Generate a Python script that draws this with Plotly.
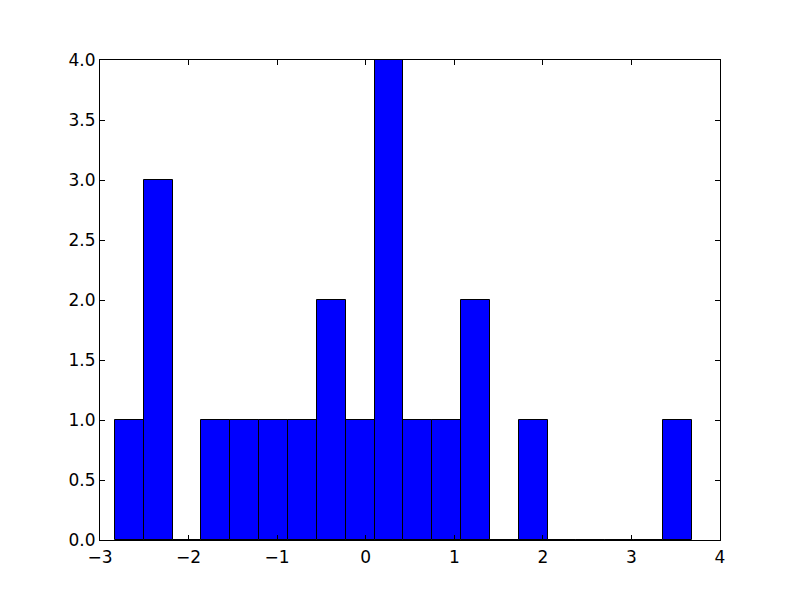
import plotly.graph_objects as go

bin_start = -2.831
bin_width = 0.3256
counts = [1, 3, 0, 1, 1, 1, 1, 2, 1, 4, 1, 1, 2, 0, 1, 0, 0, 0, 0, 1]
x_ticks = [-3, -2, -1, 0, 1, 2, 3, 4]
x_tick_labels = ["\u22123", "\u22122", "\u22121", "0", "1", "2", "3", "4"]
y_ticks = [0.0, 0.5, 1.0, 1.5, 2.0, 2.5, 3.0, 3.5, 4.0]
y_tick_labels = ["0.0", "0.5", "1.0", "1.5", "2.0", "2.5", "3.0", "3.5", "4.0"]

centers = [bin_start + bin_width * (i + 0.5) for i in range(len(counts))]

fig = go.Figure(go.Bar(
    x=centers, y=counts, width=bin_width,
    marker=dict(color="#0000ff", line=dict(color="black", width=1)),
))

axis_common = dict(
    showgrid=False, zeroline=False, showline=True, linecolor="black", linewidth=1,
    mirror="ticks", ticks="inside", ticklen=5, tickcolor="black", tickwidth=1,
    tickfont=dict(family="DejaVu Sans", size=17, color="black"),
)
fig.update_xaxes(range=[-3, 4], tickvals=x_ticks, ticktext=x_tick_labels,
                 ticklabelstandoff=2, **axis_common)
fig.update_yaxes(range=[0, 4], tickvals=y_ticks, ticktext=y_tick_labels, **axis_common)
fig.update_layout(
    width=792, height=592,
    margin=dict(l=92, r=80, t=52, b=60),
    plot_bgcolor="white", paper_bgcolor="white",
    showlegend=False, bargap=0,
)
fig.write_html("out.html")
